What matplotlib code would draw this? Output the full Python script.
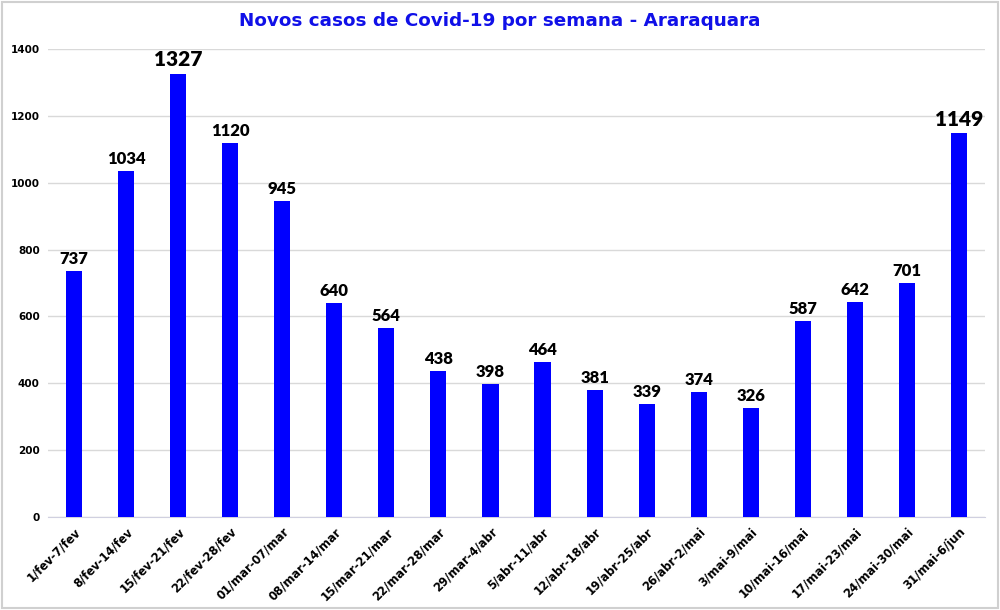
import matplotlib
matplotlib.use('Agg')
from matplotlib import pyplot as plt
from matplotlib.patches import Rectangle

semanas = ['1/fev-7/fev', '8/fev-14/fev', '15/fev-21/fev', '22/fev-28/fev',
           '01/mar-07/mar', '08/mar-14/mar', '15/mar-21/mar', '22/mar-28/mar',
           '29/mar-4/abr', '5/abr-11/abr', '12/abr-18/abr', '19/abr-25/abr',
           '26/abr-2/mai', '3/mai-9/mai', '10/mai-16/mai', '17/mai-23/mai',
           '24/mai-30/mai', '31/mai-6/jun']
casos = [737, 1034, 1327, 1120, 945, 640, 564, 438, 398, 464, 381, 339,
         374, 326, 587, 642, 701, 1149]
destaque = [1327, 1149]
yticks = [0, 200, 400, 600, 800, 1000, 1200, 1400]

fig = plt.figure(figsize=(10, 6.1), dpi=100)
ax = fig.add_axes([0.048, 0.1525, 0.937, 0.767])

x = range(len(casos))
ax.bar(x, casos, width=0.31, color='#0000ff', zorder=3)

for i, v in enumerate(casos):
    big = v in destaque
    ax.text(i, v + 12, str(v), ha='center', va='bottom',
            fontsize=15 if big else 12, fontweight='heavy',
            family=['Lato', 'DejaVu Sans'], color='#000000')

ax.set_xlim(-0.5, 17.5)
ax.set_ylim(0, 1400)
ax.set_yticks(yticks)
ax.set_yticklabels([str(t) for t in yticks], fontsize=7.5, fontweight='bold')
ax.set_xticks(list(x))
ax.set_xticklabels(semanas, rotation=45, ha='right', rotation_mode='anchor',
                   fontsize=8.3, fontweight='bold')
ax.tick_params(length=0, pad=6)
ax.grid(axis='y', color='#d9d9d9', linewidth=1, zorder=0)
for s in ['top', 'right', 'left']:
    ax.spines[s].set_visible(False)
ax.spines['bottom'].set_color('#d0d0e0')

fig.text(0.5, 0.965, 'Novos casos de Covid-19 por semana - Araraquara',
         ha='center', va='center', fontsize=13.2, fontweight='bold', color='#1010e8')

fig.patches.append(Rectangle((0.002, 0.003), 0.996, 0.994, transform=fig.transFigure,
                             fill=False, edgecolor='#d0d0d0', linewidth=1.5))

fig.savefig('out.png', dpi=100)
